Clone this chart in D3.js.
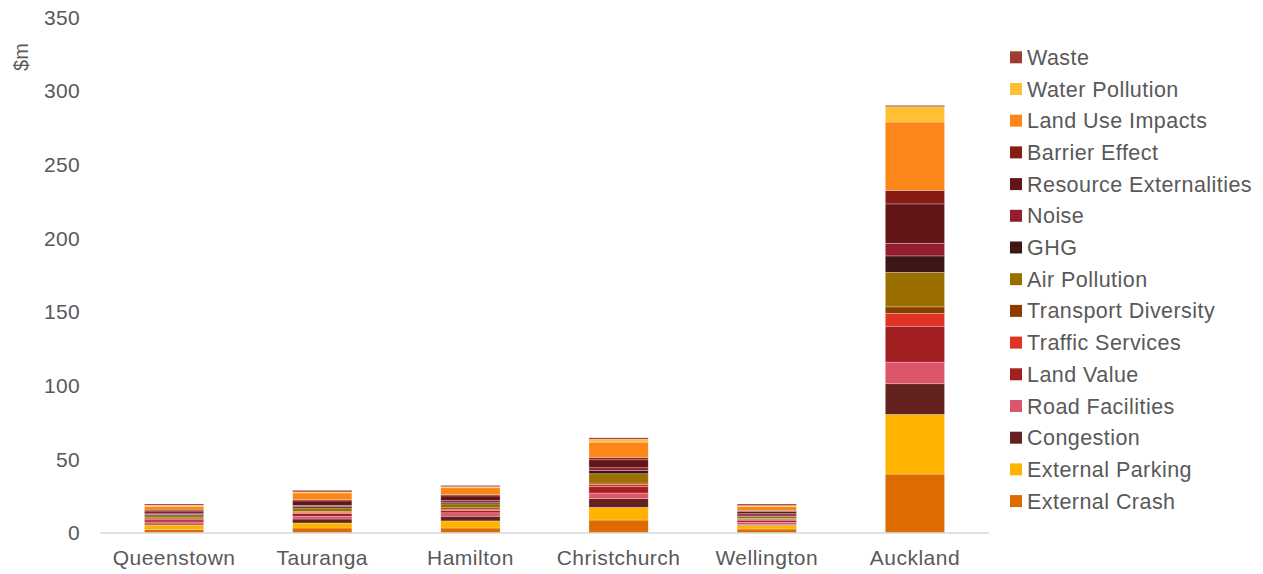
<!DOCTYPE html>
<html>
<head>
<meta charset="utf-8">
<script src="https://cdn.jsdelivr.net/npm/d3@7"></script>
<style>
  html, body { margin: 0; padding: 0; background: #ffffff; }
  svg { display: block; font-family: "Liberation Sans", Arial, sans-serif; }
</style>
</head>
<body>
<svg id="chart" width="1263" height="574"></svg>
<script>
// ---- Data ----
const categories = ["Queenstown", "Tauranga", "Hamilton", "Christchurch", "Wellington", "Auckland"];

const externalCrash         = [2.5, 3.4, 3.4, 8.8, 2.7, 40.0];
const externalParking       = [2.9, 3.4, 4.8, 8.6, 2.5, 40.5];
const congestion            = [0.7, 2.7, 3.2, 5.9, 0.7, 20.8];
const roadFacilities        = [1.4, 1.8, 2.3, 3.8, 1.4, 14.7];
const landValue             = [1.4, 1.8, 1.6, 4.3, 1.4, 24.4];
const trafficServices       = [0.7, 0.9, 0.9, 1.6, 0.7, 8.6];
const transportDiversity    = [0.7, 0.7, 0.9, 0.9, 0.5, 4.5];
const airPollution          = [1.4, 2.3, 2.7, 6.3, 1.4, 23.5];
const ghg                   = [0.9, 0.9, 1.1, 2.3, 0.9, 11.1];
const noise                 = [0.9, 0.9, 1.1, 1.8, 0.9, 8.6];
const resourceExternalities = [1.4, 3.0, 3.2, 5.4, 1.6, 26.7];
const barrierEffect         = [0.7, 0.9, 0.9, 1.6, 0.7, 9.2];
const landUseImpacts        = [2.5, 4.5, 4.6, 10.4, 2.5, 46.4];
const waterPollution        = [0.7, 0.7, 0.7, 1.9, 0.7, 10.4];
const waste                 = [0.9, 1.1, 0.9, 1.0, 1.1, 0.9];

// stacking order: bottom -> top
const seriesNames = ["External Crash", "External Parking", "Congestion", "Road Facilities", "Land Value",
  "Traffic Services", "Transport Diversity", "Air Pollution", "GHG", "Noise",
  "Resource Externalities", "Barrier Effect", "Land Use Impacts", "Water Pollution", "Waste"];
const seriesValues = [externalCrash, externalParking, congestion, roadFacilities, landValue,
  trafficServices, transportDiversity, airPollution, ghg, noise,
  resourceExternalities, barrierEffect, landUseImpacts, waterPollution, waste];
const seriesColors = ["#dd6b00", "#ffb300", "#64221f", "#dc5569", "#a21f22",
  "#e03323", "#8b3d00", "#9b6e00", "#3f1616", "#931e32",
  "#641517", "#861c14", "#fd8618", "#ffc133", "#9e3b33"];

const yTicks = [0, 50, 100, 150, 200, 250, 300, 350];
const yLabel = "$m";

// ---- Layout ----
const svg = d3.select("#chart");
const textColor = "#595959";
const plot = { left: 100, right: 989, top: 17.4, bottom: 533 };

const rows = categories.map((c, i) => {
  const r = { category: c };
  seriesNames.forEach((s, k) => { r[s] = seriesValues[k][i]; });
  return r;
});

const x = d3.scaleBand().domain(categories).range([plot.left, plot.right])
  .paddingInner(0.6).paddingOuter(0.3);
const y = d3.scaleLinear().domain([0, 350]).range([plot.bottom, plot.top]);
const color = d3.scaleOrdinal().domain(seriesNames).range(seriesColors);

const stacked = d3.stack().keys(seriesNames)(rows);

// bars
svg.append("g").selectAll("g").data(stacked).join("g")
  .attr("fill", d => color(d.key))
  .selectAll("rect").data(d => d).join("rect")
  .attr("x", d => x(d.data.category))
  .attr("width", x.bandwidth())
  .attr("y", d => y(d[1]))
  .attr("height", d => y(d[0]) - y(d[1]))
  .attr("stroke", "#ffffff")
  .attr("stroke-opacity", 0.45)
  .attr("stroke-width", 0.6);

// baseline
svg.append("line")
  .attr("x1", plot.left).attr("x2", plot.right)
  .attr("y1", y(0)).attr("y2", y(0))
  .attr("stroke", "#d9d9d9").attr("stroke-width", 1.5);

function styleText(sel, size, ls) {
  sel.attr("fill", textColor)
    .style("font-size", size + "px")
    .style("letter-spacing", ls)
    .style("font-family", "'Liberation Sans', Arial, sans-serif");
}

// y axis tick labels
const yAxis = d3.axisLeft(y).tickValues(yTicks).tickSize(0).tickPadding(0);
const gy = svg.append("g").attr("transform", "translate(80,0)").call(yAxis);
gy.select(".domain").remove();
styleText(gy.selectAll("text"), 21, "0.3px");

// x axis labels
const xAxis = d3.axisBottom(x).tickSize(0).tickPadding(0);
const gx = svg.append("g").attr("transform", `translate(0,${y(0) + 17})`).call(xAxis);
gx.select(".domain").remove();
styleText(gx.selectAll("text"), 21, "0.5px");

// y axis title
svg.append("text")
  .attr("transform", "translate(28,57) rotate(-90)")
  .attr("text-anchor", "middle")
  .attr("fill", textColor)
  .style("font-size", "20px")
  .text(yLabel);

// legend (top -> bottom is reverse stacking order)
const legendOrder = seriesNames.slice().reverse();
const lg = svg.append("g");
const leg = lg.selectAll("g").data(legendOrder).join("g")
  .attr("transform", (d, i) => `translate(1010,${57.3 + i * 31.7})`);
leg.append("rect")
  .attr("x", 0).attr("y", -6).attr("width", 12).attr("height", 12)
  .attr("fill", d => color(d));
const lt = leg.append("text")
  .attr("x", 17).attr("y", 0).attr("dy", "0.35em")
  .text(d => d);
styleText(lt, 21.5, "0.45px");
</script>
</body>
</html>
